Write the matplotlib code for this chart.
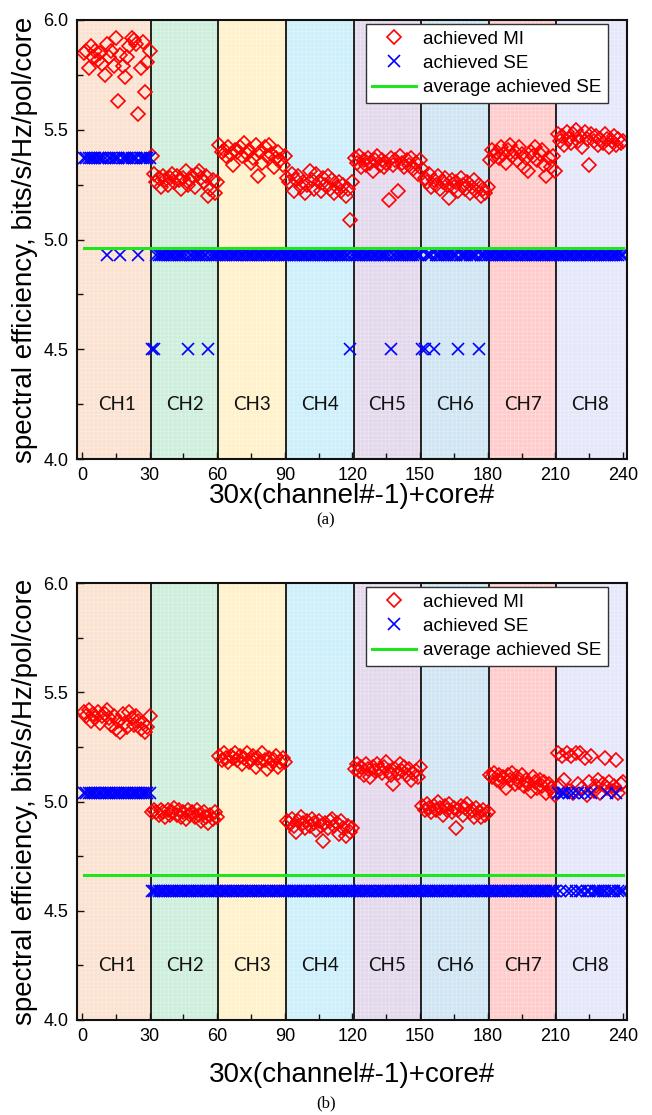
import numpy as np
import matplotlib
matplotlib.use("Agg")
import matplotlib.pyplot as plt

# ---------------- data ----------------
channels = ["CH1", "CH2", "CH3", "CH4", "CH5", "CH6", "CH7", "CH8"]
band_colors = ["#FBE2D0", "#CDEEDB", "#FFF2CA", "#CDEFFB",
               "#E3D8EC", "#CFE5F3", "#FFCCCC", "#E5E7FA"]
x_ticks = [0, 30, 60, 90, 120, 150, 180, 210, 240]
y_ticks = [4.0, 4.5, 5.0, 5.5, 6.0]

# panel (a): achieved MI per channel (cores 1..30)
mi_a_ch1 = [5.85, 5.86, 5.78, 5.88, 5.83, 5.86, 5.82, 5.85, 5.80, 5.75, 5.89, 5.83, 5.86, 5.79, 5.92,
            5.63, 5.84, 5.79, 5.74, 5.83, 5.88, 5.92, 5.91, 5.89, 5.57, 5.78, 5.90, 5.67, 5.81, 5.86]
mi_a_ch2 = [5.38, 5.30, 5.26, 5.28, 5.24, 5.29, 5.27, 5.25, 5.28, 5.30, 5.26, 5.29, 5.27, 5.23, 5.28,
            5.31, 5.25, 5.27, 5.29, 5.24, 5.30, 5.31, 5.28, 5.26, 5.29, 5.20, 5.23, 5.27, 5.21, 5.26]
mi_a_ch3 = [5.43, 5.40, 5.41, 5.38, 5.42, 5.39, 5.34, 5.41, 5.40, 5.42, 5.38, 5.44, 5.39, 5.41, 5.35,
            5.37, 5.43, 5.29, 5.40, 5.35, 5.42, 5.38, 5.43, 5.39, 5.33, 5.37, 5.40, 5.36, 5.34, 5.38]
mi_a_ch4 = [5.28, 5.26, 5.30, 5.22, 5.27, 5.29, 5.24, 5.26, 5.21, 5.25, 5.31, 5.27, 5.23, 5.30, 5.26,
            5.22, 5.28, 5.25, 5.29, 5.23, 5.27, 5.21, 5.24, 5.26, 5.22, 5.25, 5.20, 5.23, 5.09, 5.26]
mi_a_ch5 = [5.37, 5.35, 5.38, 5.33, 5.36, 5.34, 5.37, 5.35, 5.31, 5.36, 5.38, 5.34, 5.36, 5.33, 5.35,
            5.18, 5.37, 5.34, 5.36, 5.22, 5.38, 5.35, 5.33, 5.36, 5.34, 5.37, 5.32, 5.35, 5.30, 5.36]
mi_a_ch6 = [5.32, 5.28, 5.26, 5.30, 5.24, 5.27, 5.25, 5.29, 5.23, 5.26, 5.28, 5.25, 5.19, 5.27, 5.24,
            5.26, 5.22, 5.28, 5.25, 5.23, 5.26, 5.21, 5.24, 5.27, 5.22, 5.25, 5.20, 5.23, 5.21, 5.24]
mi_a_ch7 = [5.36, 5.41, 5.38, 5.40, 5.37, 5.42, 5.39, 5.35, 5.41, 5.43, 5.38, 5.40, 5.36, 5.42, 5.39,
            5.33, 5.37, 5.31, 5.40, 5.38, 5.42, 5.36, 5.39, 5.41, 5.34, 5.29, 5.37, 5.33, 5.38, 5.31]
mi_a_ch8 = [5.48, 5.45, 5.47, 5.43, 5.49, 5.46, 5.44, 5.48, 5.50, 5.45, 5.47, 5.42, 5.49, 5.46, 5.34,
            5.48, 5.45, 5.47, 5.43, 5.46, 5.44, 5.48, 5.46, 5.42, 5.45, 5.47, 5.43, 5.46, 5.44, 5.45]

# panel (a): achieved SE, per-channel level plus individual cores that differ
se_a_levels = [5.37, 4.93, 4.93, 4.93, 4.93, 4.93, 4.93, 4.93]
se_a_other = {11: 4.93, 17: 4.93, 25: 4.93, 31: 4.50, 32: 4.50, 47: 4.50, 56: 4.50,
              119: 4.50, 137: 4.50, 151: 4.50, 152: 4.50, 156: 4.50, 167: 4.50, 176: 4.50}

# panel (b): achieved MI per channel
mi_b_ch1 = [5.41, 5.39, 5.42, 5.37, 5.40, 5.38, 5.41, 5.36, 5.39, 5.40, 5.42, 5.38, 5.35, 5.39, 5.33,
            5.37, 5.32, 5.40, 5.36, 5.34, 5.41, 5.38, 5.35, 5.39, 5.37, 5.33, 5.36, 5.32, 5.34, 5.39]
mi_b_ch2 = [4.95, 4.96, 4.95, 4.94, 4.96, 4.95, 4.93, 4.96, 4.94, 4.95, 4.97, 4.94, 4.96, 4.93, 4.95,
            4.92, 4.96, 4.94, 4.95, 4.93, 4.96, 4.94, 4.91, 4.95, 4.93, 4.90, 4.94, 4.92, 4.95, 4.93]
mi_b_ch3 = [5.21, 5.19, 5.22, 5.20, 5.18, 5.21, 5.20, 5.22, 5.19, 5.21, 5.17, 5.20, 5.22, 5.18, 5.19,
            5.21, 5.16, 5.20, 5.18, 5.22, 5.19, 5.15, 5.20, 5.17, 5.19, 5.21, 5.16, 5.18, 5.20, 5.18]
mi_b_ch4 = [4.91, 4.90, 4.92, 4.89, 4.86, 4.91, 4.93, 4.90, 4.88, 4.91, 4.89, 4.92, 4.90, 4.87, 4.91,
            4.89, 4.82, 4.90, 4.88, 4.91, 4.92, 4.89, 4.90, 4.85, 4.91, 4.88, 4.84, 4.89, 4.86, 4.88]
mi_b_ch5 = [5.15, 5.17, 5.14, 5.16, 5.12, 5.17, 5.15, 5.11, 5.16, 5.14, 5.17, 5.15, 5.13, 5.16, 5.18,
            5.14, 5.12, 5.08, 5.15, 5.13, 5.17, 5.14, 5.16, 5.12, 5.15, 5.10, 5.13, 5.14, 5.11, 5.16]
mi_b_ch6 = [4.98, 4.96, 4.99, 4.97, 4.95, 4.98, 4.96, 5.00, 4.97, 4.94, 4.98, 4.96, 4.99, 4.95, 4.97,
            4.88, 4.96, 4.98, 4.94, 4.97, 4.99, 4.95, 4.96, 4.93, 4.97, 4.95, 4.93, 4.96, 4.94, 4.95]
mi_b_ch7 = [5.12, 5.11, 5.13, 5.10, 5.12, 5.09, 5.11, 5.06, 5.12, 5.10, 5.13, 5.08, 5.11, 5.09, 5.12,
            5.07, 5.10, 5.08, 5.05, 5.11, 5.09, 5.06, 5.10, 5.07, 5.09, 5.04, 5.08, 5.06, 5.05, 5.03]
mi_b_ch8 = [5.22, 5.07, 5.21, 5.10, 5.22, 5.05, 5.21, 5.04, 5.22, 5.08, 5.22, 5.06, 5.20, 5.03, 5.09,
            5.21, 5.05, 5.07, 5.10, 5.04, 5.08, 5.20, 5.06, 5.09, 5.05, 5.07, 5.19, 5.04, 5.08, 5.09]

se_b_levels = [5.04, 4.59, 4.59, 4.59, 4.59, 4.59, 4.59, 4.59]
se_b_other = {211: 5.04, 213: 5.04, 214: 5.04, 216: 5.04, 218: 5.04, 220: 5.04,
              223: 5.04, 226: 5.04, 233: 5.04, 237: 5.04}

mi_a = [mi_a_ch1, mi_a_ch2, mi_a_ch3, mi_a_ch4, mi_a_ch5, mi_a_ch6, mi_a_ch7, mi_a_ch8]
mi_b = [mi_b_ch1, mi_b_ch2, mi_b_ch3, mi_b_ch4, mi_b_ch5, mi_b_ch6, mi_b_ch7, mi_b_ch8]

N_CORES = 30


def build(mi_lists, se_levels, se_other):
    x = np.arange(1, N_CORES * len(mi_lists) + 1)
    mi = np.concatenate([np.asarray(m, float) for m in mi_lists])
    se = np.repeat(np.asarray(se_levels, float), N_CORES)
    for k, v in se_other.items():
        se[k - 1] = v
    return x, mi, se


plt.rcParams['font.family'] = ['Liberation Sans', 'DejaVu Sans']
plt.rcParams['hatch.linewidth'] = 0.35

fig = plt.figure(figsize=(6.52, 11.15), dpi=100)

W, H = 652.0, 1115.0
panels = [
    dict(box=(77, 20, 627, 459), mi=mi_a, lv=se_a_levels, oth=se_a_other,
         xlab_y=496, tag="(a)", tag_y=520),
    dict(box=(77, 583, 627, 1020), mi=mi_b, lv=se_b_levels, oth=se_b_other,
         xlab_y=1075, tag="(b)", tag_y=1103),
]

for p in panels:
    l, t, r, b = p["box"]
    ax = fig.add_axes([l / W, (H - b) / H, (r - l) / W, (b - t) / H])
    x, mi, se = build(p["mi"], p["lv"], p["oth"])
    xmin, xmax = -2.2, 241.8
    ax.set_xlim(xmin, xmax)
    ax.set_ylim(4.0, 6.0)

    # channel background bands
    edges = [xmin] + [N_CORES * k + 0.5 for k in range(1, 8)] + [xmax]
    for k in range(8):
        ax.axvspan(edges[k], edges[k + 1], facecolor=band_colors[k],
                   edgecolor=(1, 1, 1, 0.45), hatch='++++', linewidth=0, zorder=0)
        ax.text((N_CORES * k + N_CORES * (k + 1)) / 2 + 0.5, 4.25, channels[k],
                ha='center', va='center', fontsize=13.5, family='Lato',
                color='#111111', zorder=1)
    for k in range(1, 8):
        ax.axvline(N_CORES * k + 0.5, color='#222222', lw=1.4, zorder=1)

    ax.plot(x, mi, linestyle='none', marker='D', markersize=7,
            markerfacecolor='none', markeredgecolor='#FF0000', markeredgewidth=1.2,
            label='achieved MI', zorder=3)
    ax.plot(x, se, linestyle='none', marker='x', markersize=8.5,
            color='#0000FF', markeredgewidth=1.2, label='achieved SE', zorder=3)
    avg = se.mean()
    ax.plot([x[0], x[-1]], [avg, avg], color='#1EE61E', lw=2.2,
            label='average achieved SE', zorder=4)

    ax.set_xticks(x_ticks)
    ax.set_xticks(np.arange(15, 240, 30), minor=True)
    ax.set_yticks(y_ticks)
    ax.set_yticks([4.25, 4.75, 5.25, 5.75], minor=True)
    ax.set_yticklabels([f"{v:.1f}" for v in y_ticks])
    ax.tick_params(which='both', direction='in', width=1.0, labelsize=13,
                   pad=6, color='#111111')
    ax.tick_params(which='major', length=5)
    ax.tick_params(which='minor', length=4)
    for s in ax.spines.values():
        s.set_linewidth(1.5)
        s.set_color('#111111')
        s.set_zorder(5)

    ax.set_ylabel('spectral efficiency, bits/s/Hz/pol/core', fontsize=20)
    ax.yaxis.set_label_coords((25 - l) / (r - l), 0.5)
    ax.yaxis.label.set_va('center')
    ax.set_xlabel('30x(channel#-1)+core#', fontsize=20)
    ax.xaxis.set_label_coords(0.5, (b - p["xlab_y"]) / (b - t))
    ax.xaxis.label.set_va('center')

    leg = ax.legend(loc='upper right', bbox_to_anchor=((608 - l) / (r - l), 0.991),
                    borderaxespad=0, fontsize=13.5, frameon=True, fancybox=False,
                    edgecolor='#333333', framealpha=1, handlelength=2.3,
                    handletextpad=0.4, labelspacing=0.38, borderpad=0.35)
    leg.get_frame().set_linewidth(1.0)
    leg.set_zorder(10)

    fig.text(0.5, 1 - p["tag_y"] / H, p["tag"], ha='center', va='center',
             fontsize=12, family='Liberation Serif')

fig.savefig('out.png', dpi=100)
